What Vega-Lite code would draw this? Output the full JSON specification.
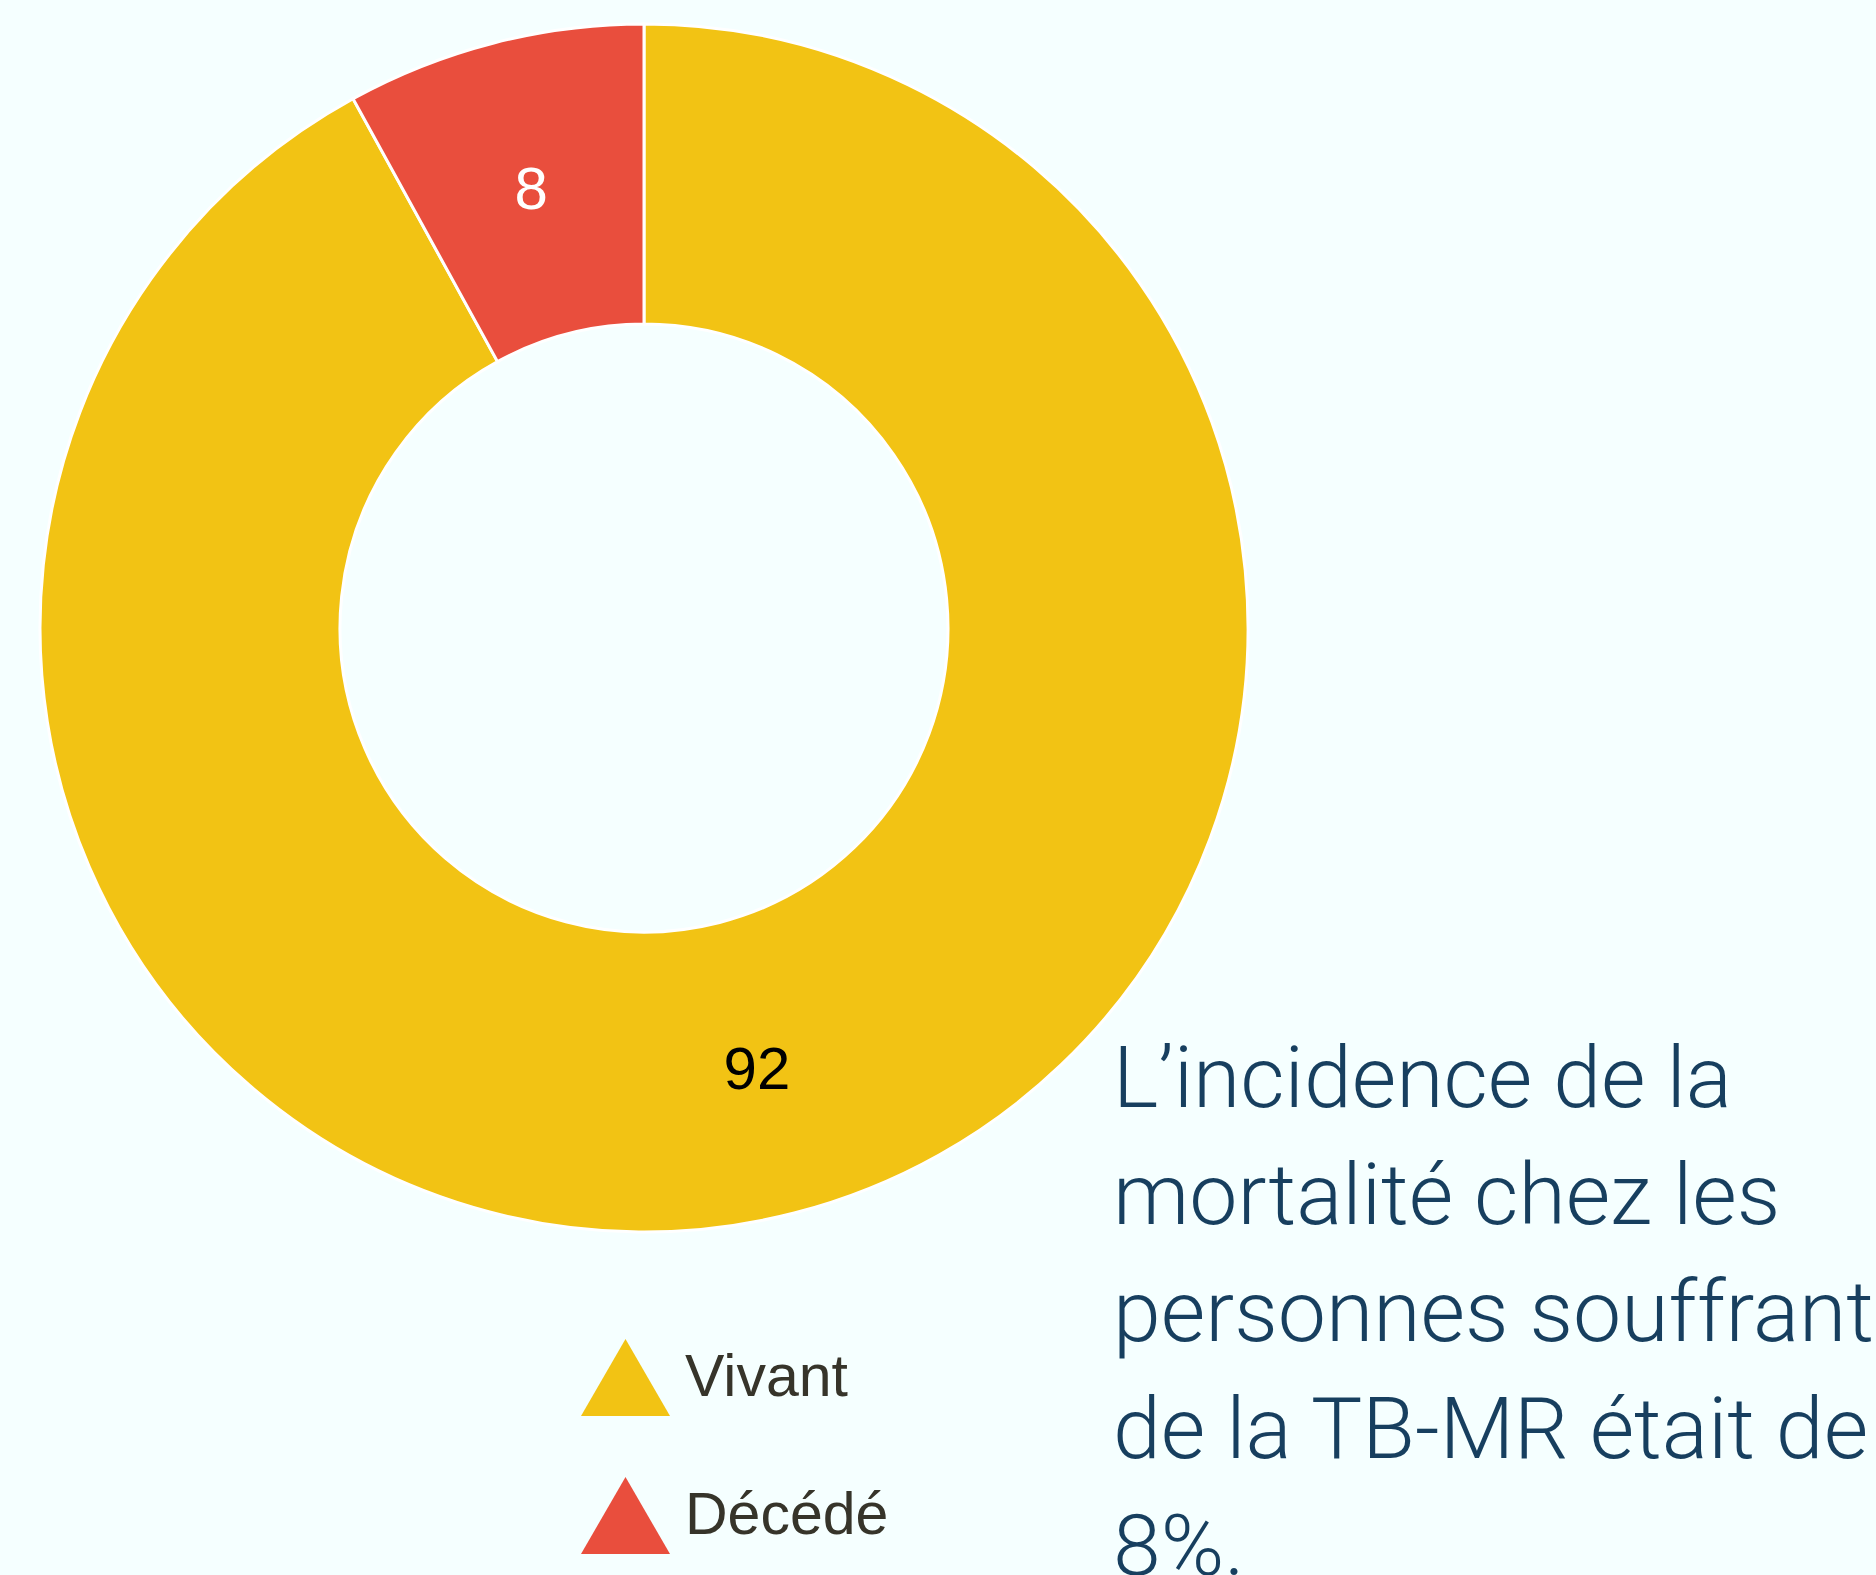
{
  "$schema": "https://vega.github.io/schema/vega-lite/v6.json",
  "autosize": {"type": "none"},
  "padding": {"left": 0, "top": 0, "right": 588, "bottom": 319},
  "width": 1288,
  "height": 1256,
  "background": "#f5ffff",
  "title": {
    "text": ["L’incidence de la", "mortalité chez les", "personnes souffrant", "de la TB-MR était de", "8%."],
    "orient": "bottom",
    "anchor": "start",
    "frame": "group",
    "align": "left",
    "baseline": "top",
    "font": "Roboto",
    "fontWeight": 300,
    "fontSize": 86,
    "lineHeight": 117,
    "color": "#173f5f",
    "offset": 0,
    "dx": 1113,
    "dy": -516
  },
  "data": {
    "values": [
      {"statut": "Vivant", "pourcentage": 92, "ordre": 1},
      {"statut": "Décédé", "pourcentage": 8, "ordre": 2}
    ]
  },
  "encoding": {
    "theta": {"field": "pourcentage", "type": "quantitative", "stack": true},
    "order": {"field": "ordre", "type": "quantitative"}
  },
  "layer": [
    {
      "mark": {"type": "arc", "outerRadius": 604, "innerRadius": 304, "stroke": "#ffffff", "strokeWidth": 3},
      "encoding": {
        "color": {
          "field": "statut",
          "type": "nominal",
          "scale": {"domain": ["Vivant", "Décédé"], "range": ["#f2c314", "#e94e3d"]},
          "legend": {
            "title": null,
            "orient": "none",
            "legendX": 581,
            "legendY": 1333,
            "padding": 0,
            "symbolType": "triangle-up",
            "symbolSize": 7921,
            "symbolStrokeWidth": 0,
            "symbolOpacity": 1,
            "labelFont": "Liberation Sans",
            "labelFontSize": 59,
            "labelColor": "#36342a",
            "labelOffset": 15,
            "labelLimit": 600,
            "rowPadding": 54
          }
        }
      }
    },
    {
      "mark": {"type": "text", "radius": 454, "font": "Liberation Sans", "fontSize": 60, "baseline": "middle", "align": "center", "dy": 3},
      "encoding": {
        "text": {"field": "pourcentage", "type": "quantitative"},
        "color": {
          "condition": {"test": "datum.statut === 'Décédé'", "value": "#ffffff"},
          "value": "#000000"
        }
      }
    }
  ]
}
